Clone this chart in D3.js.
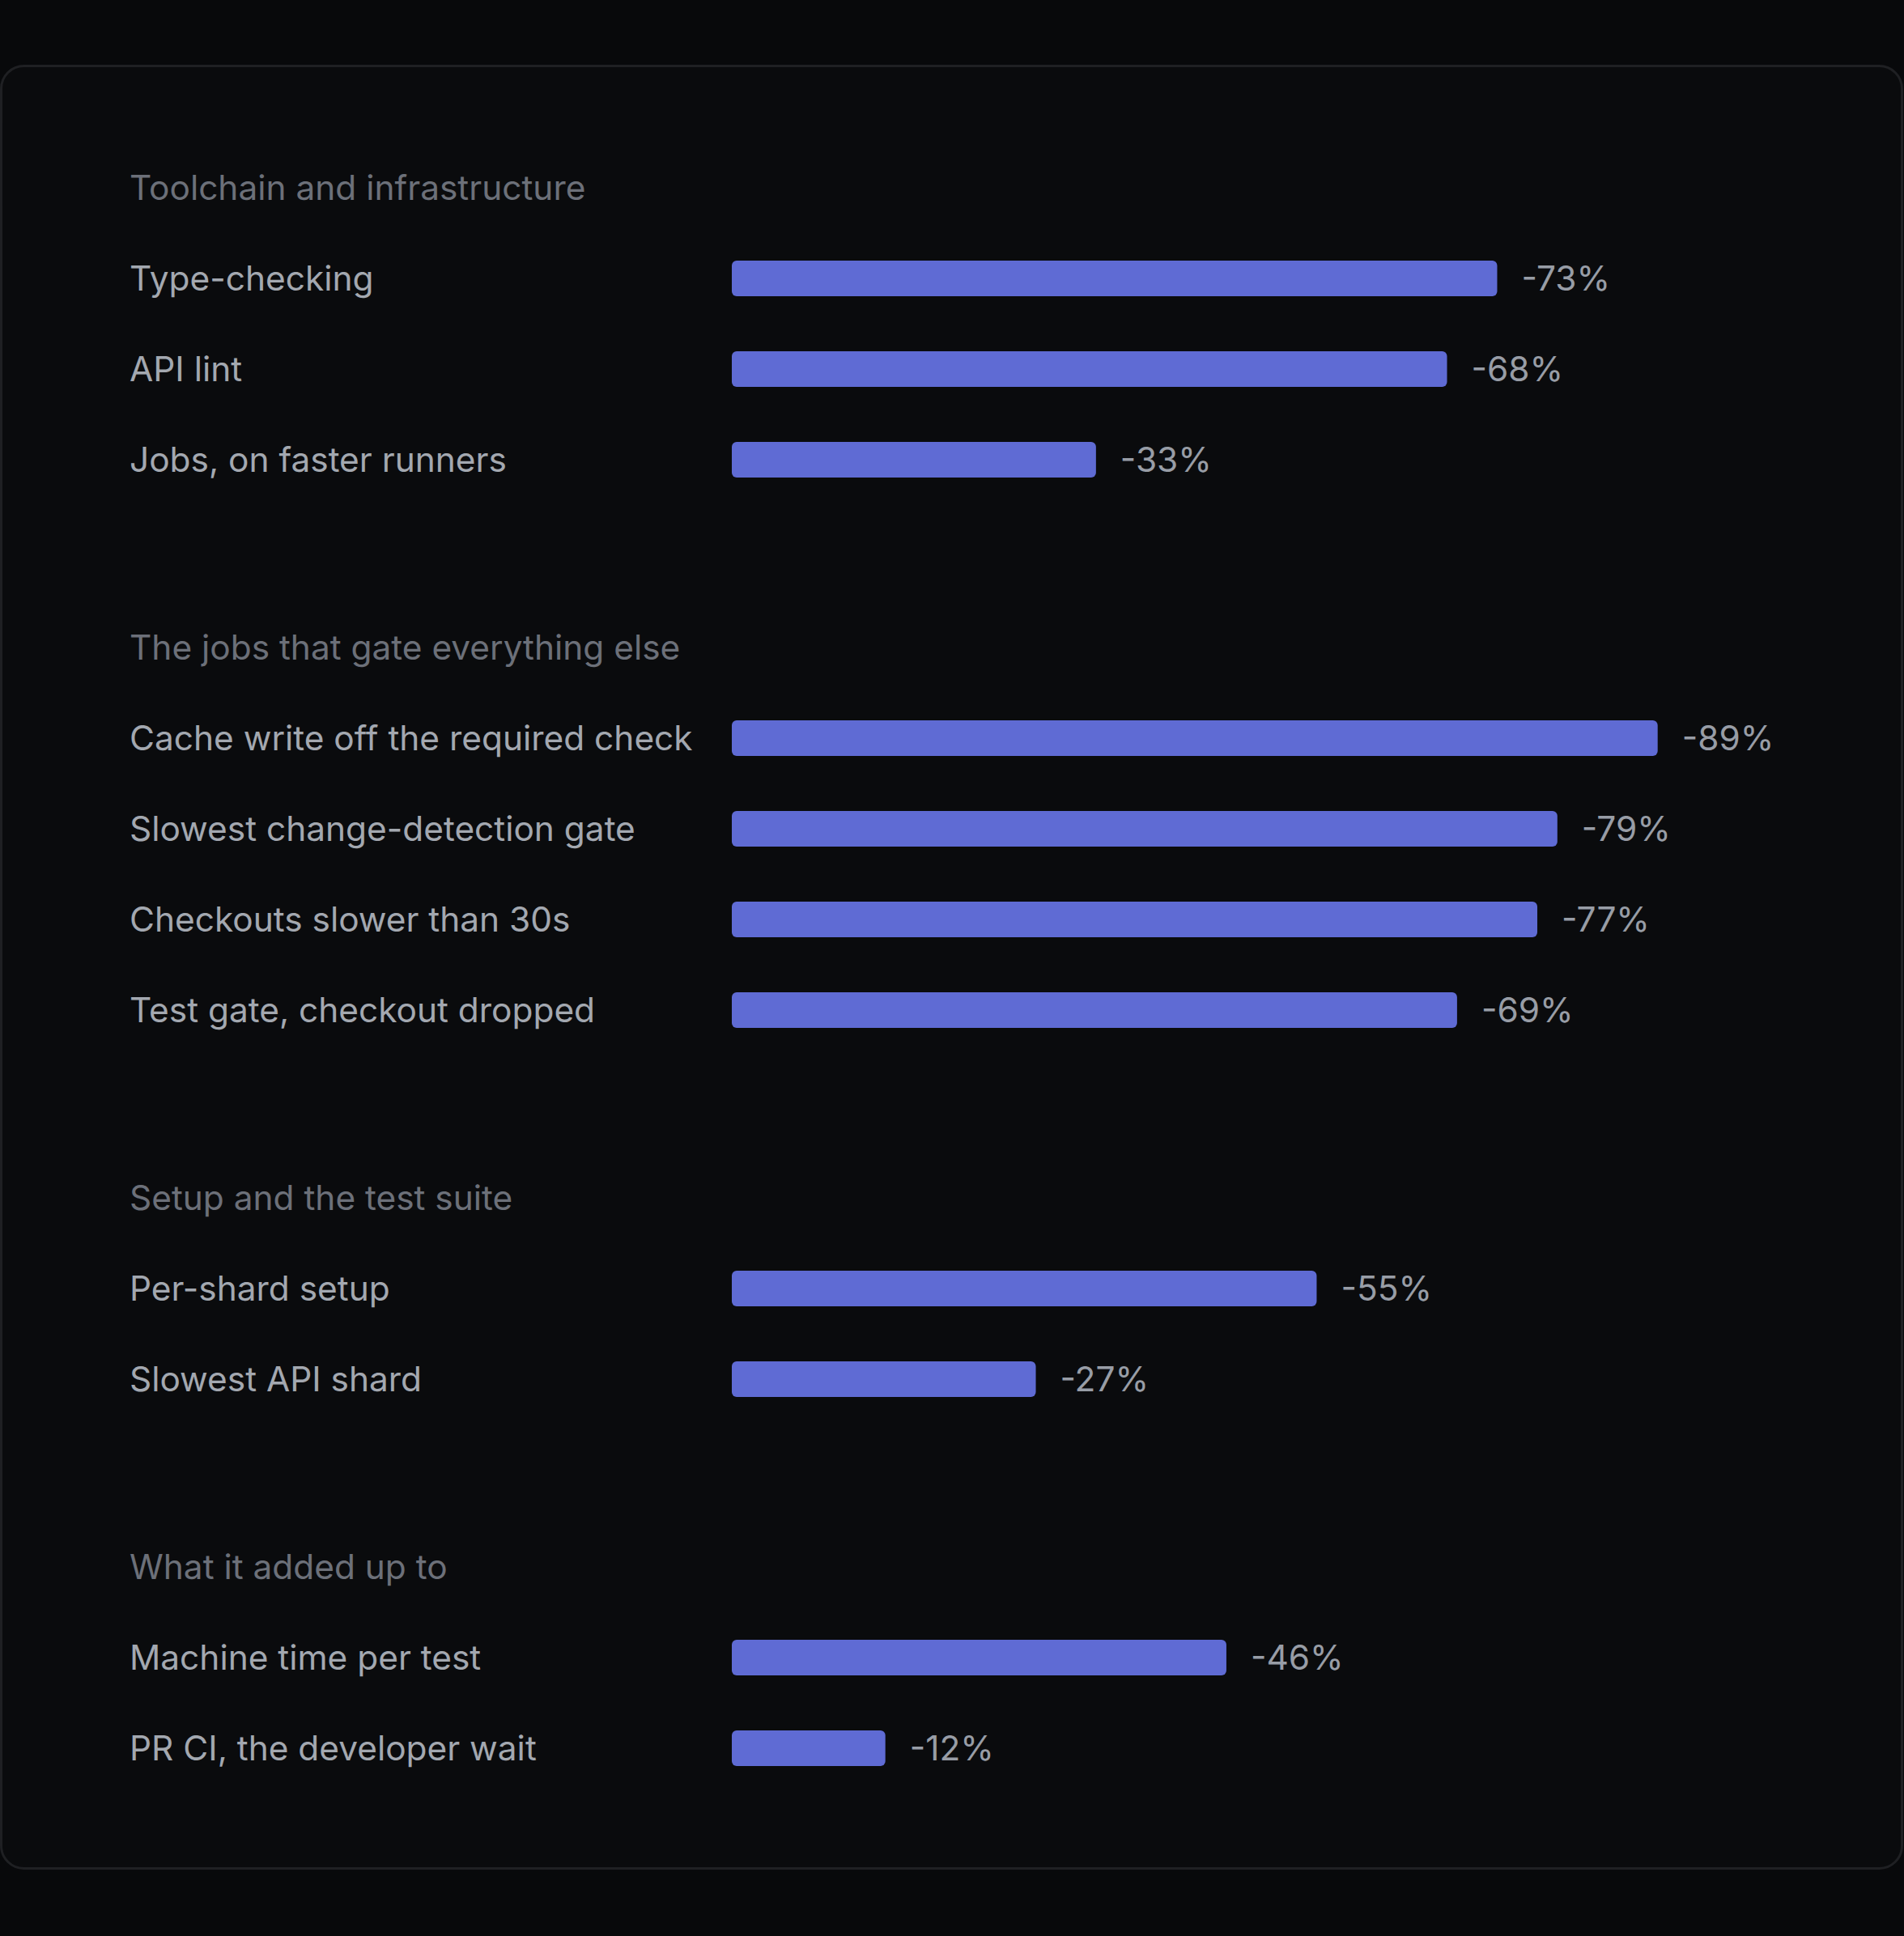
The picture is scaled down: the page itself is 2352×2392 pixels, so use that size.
<!DOCTYPE html>
<html>
<head>
<meta charset="utf-8">
<script src="https://cdn.jsdelivr.net/npm/d3@7"></script>
<style>
  html, body { margin: 0; padding: 0; background: #08090b; }
  svg { display: block; }
</style>
</head>
<body>
<script>
// ---- data ----
const groupTitles = [
  "Toolchain and infrastructure",
  "The jobs that gate everything else",
  "Setup and the test suite",
  "What it added up to"
];
const group1Labels = ["Type-checking", "API lint", "Jobs, on faster runners"];
const group1Values = [73, 68, 33];
const group2Labels = ["Cache write off the required check", "Slowest change-detection gate", "Checkouts slower than 30s", "Test gate, checkout dropped"];
const group2Values = [89, 79, 77, 69];
const group3Labels = ["Per-shard setup", "Slowest API shard"];
const group3Values = [55, 27];
const group4Labels = ["Machine time per test", "PR CI, the developer wait"];
const group4Values = [46, 12];

const groups = [
  { title: groupTitles[0], labels: group1Labels, values: group1Values },
  { title: groupTitles[1], labels: group2Labels, values: group2Values },
  { title: groupTitles[2], labels: group3Labels, values: group3Values },
  { title: groupTitles[3], labels: group4Labels, values: group4Values }
];

// ---- layout ----
const W = 2352, H = 2392;
const labelX = 160, barX = 904;
const rowStep = 112, groupGap = 232, firstTitleY = 232;
const barH = 44;
const fontSize = 42.4;

const svg = d3.select("body").append("svg").attr("width", W).attr("height", H);
svg.append("rect").attr("width", W).attr("height", H).attr("fill", "#08090b");
svg.append("rect")
  .attr("x", 1.5).attr("y", 81.5).attr("width", 2348).attr("height", 2227)
  .attr("rx", 28).attr("ry", 28)
  .attr("fill", "#0a0b0d").attr("stroke", "#1f2023").attr("stroke-width", 3);

const x = d3.scaleLinear().domain([0, 100]).range([41, 1280]);

let y = firstTitleY;
const g = svg.append("g").attr("font-family", "Inter, 'Noto Sans', sans-serif").attr("font-size", fontSize);

groups.forEach((grp, gi) => {
  g.append("text")
    .attr("x", labelX).attr("y", y).attr("dy", "0.36em")
    .attr("fill", "#6c7079")
    .text(grp.title);
  const rows = grp.labels.map((l, i) => ({ label: l, value: grp.values[i], cy: y + rowStep * (i + 1) }));
  const rg = g.append("g");
  rg.selectAll("text.label").data(rows).join("text")
    .attr("class", "label")
    .attr("x", labelX).attr("y", d => d.cy).attr("dy", "0.36em")
    .attr("fill", "#a3a8b0")
    .text(d => d.label);
  rg.selectAll("rect.bar").data(rows).join("rect")
    .attr("class", "bar")
    .attr("x", barX).attr("y", d => d.cy - barH / 2)
    .attr("width", d => x(d.value)).attr("height", barH)
    .attr("rx", 6).attr("ry", 6)
    .attr("fill", "#5f6bd4");
  rg.selectAll("text.val").data(rows).join("text")
    .attr("class", "val")
    .attr("x", d => barX + x(d.value) + 30).attr("y", d => d.cy).attr("dy", "0.36em")
    .attr("fill", "#989da6")
    .text(d => "-" + d.value + "%");
  y = rows[rows.length - 1].cy + groupGap;
});
</script>
</body>
</html>
